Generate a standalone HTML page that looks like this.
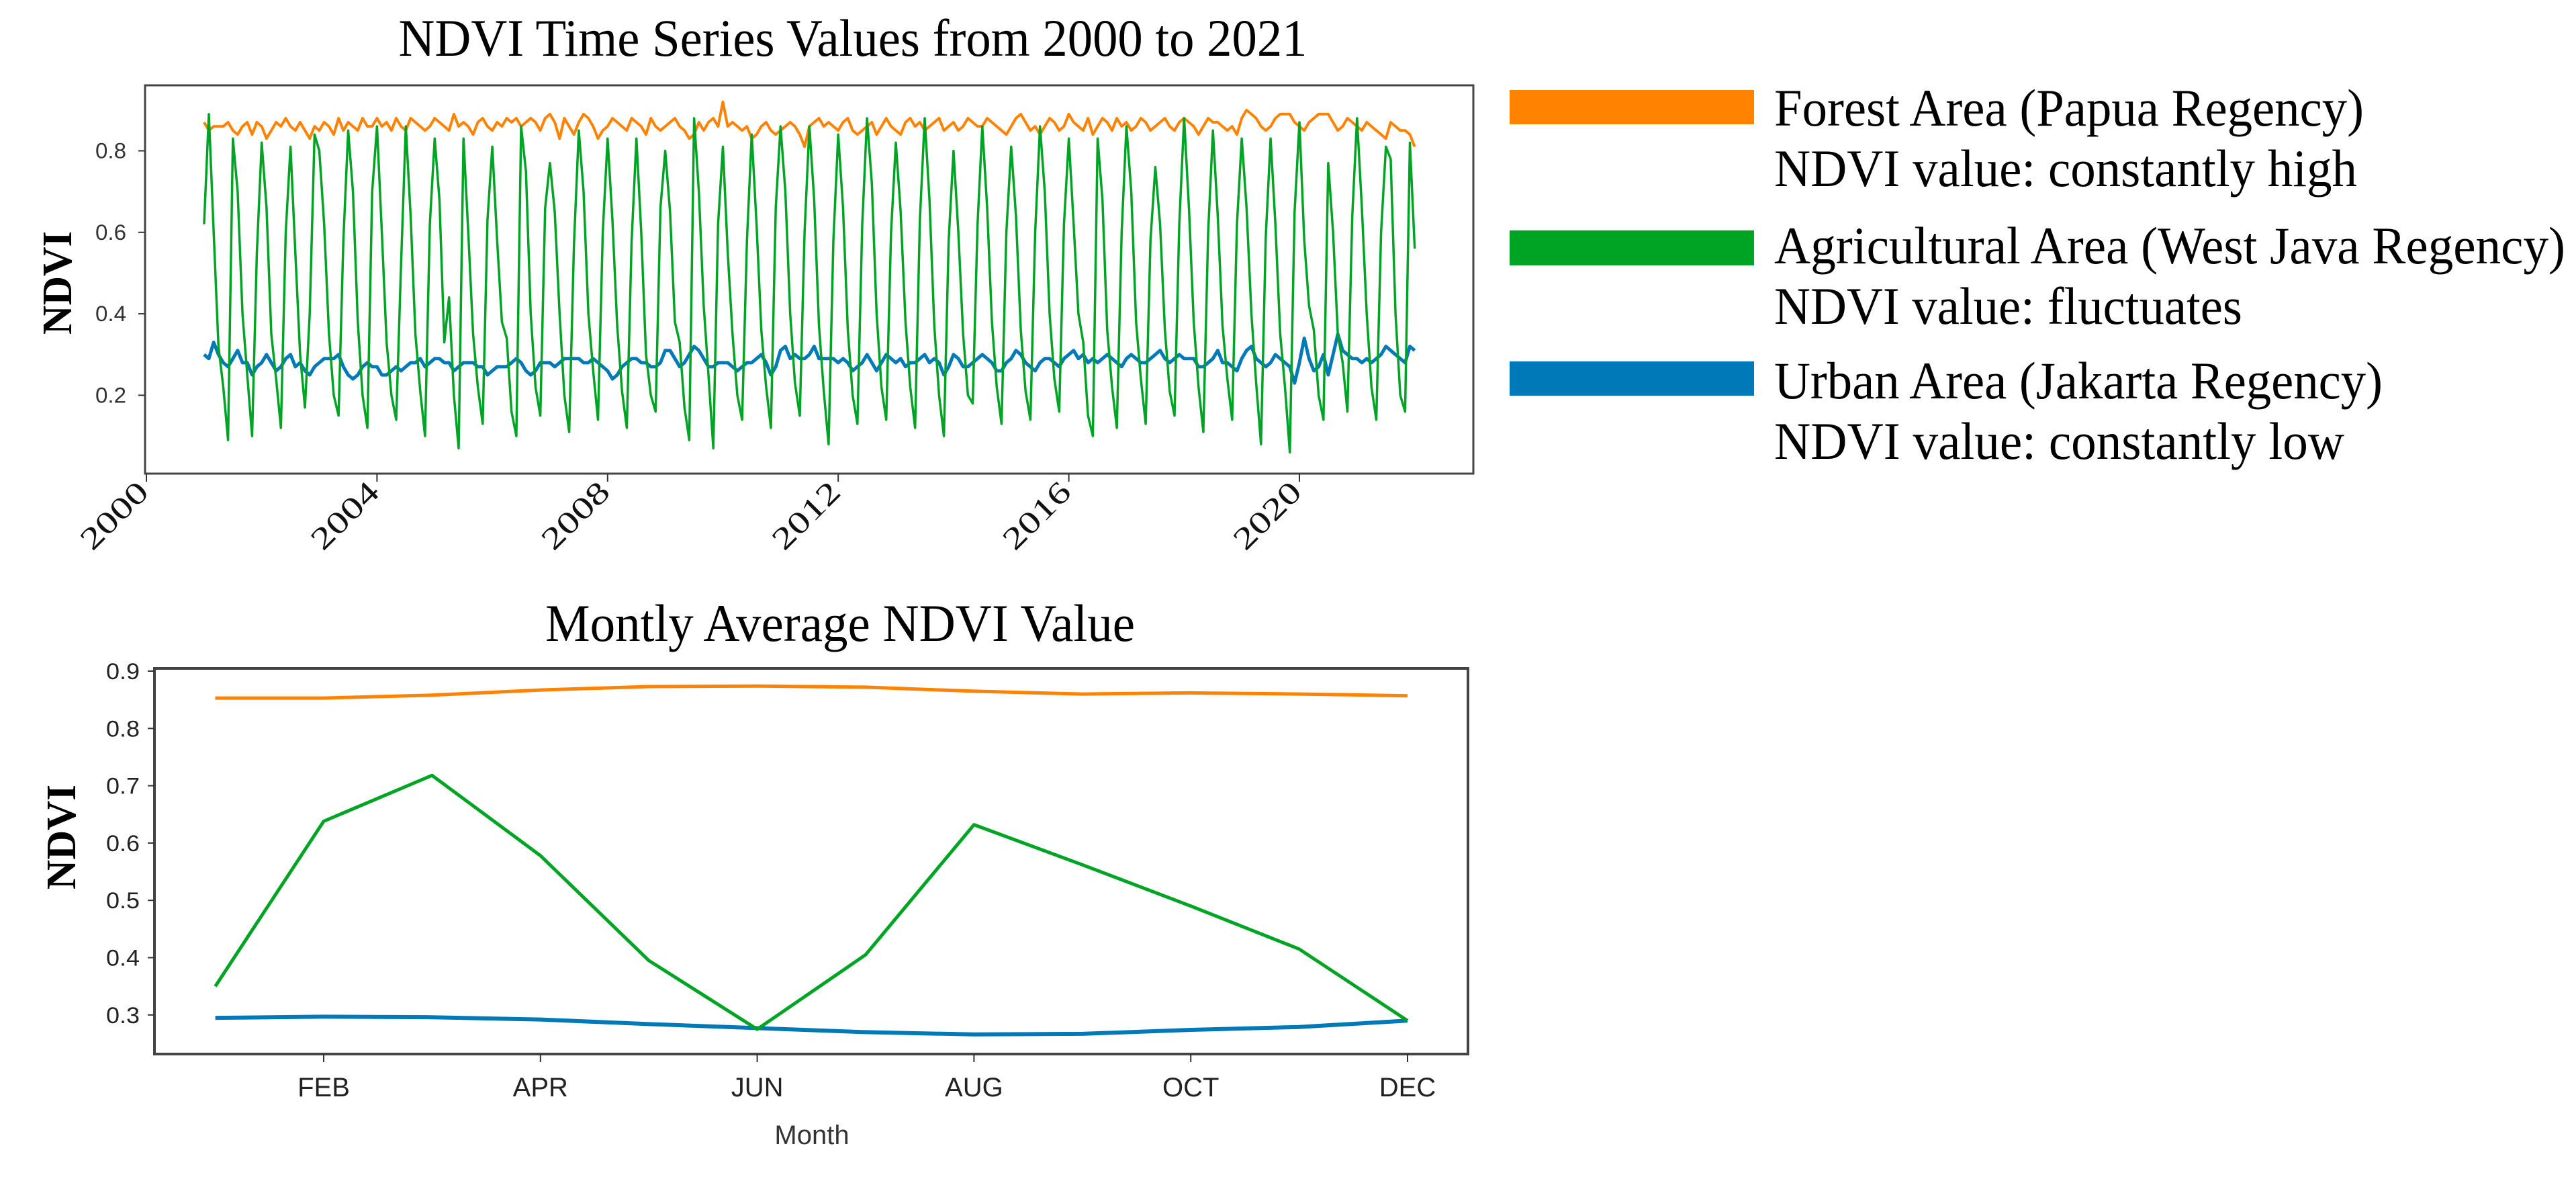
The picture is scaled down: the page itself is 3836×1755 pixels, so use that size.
<!DOCTYPE html>
<html><head><meta charset="utf-8"><style>
html,body{margin:0;padding:0;background:#fff;}
svg{display:block;}
</style></head><body>
<svg id="fig" width="3836" height="1755" viewBox="0 0 3836 1755" xmlns="http://www.w3.org/2000/svg">
<rect width="3836" height="1755" fill="#fff"/>
<g id="topChart"></g>
<g id="botChart"></g>
<g id="legend">
  <rect x="2248" y="134" width="364" height="51" fill="#ff8200"/>
  <text x="2642" y="187" font-family="Liberation Serif, serif" font-size="78" textLength="878" lengthAdjust="spacingAndGlyphs">Forest Area (Papua Regency)</text>
  <text x="2642" y="277" font-family="Liberation Serif, serif" font-size="78" textLength="868" lengthAdjust="spacingAndGlyphs">NDVI value: constantly high</text>
  <rect x="2248" y="343" width="364" height="52" fill="#00a424"/>
  <text x="2642" y="392" font-family="Liberation Serif, serif" font-size="78" textLength="1178" lengthAdjust="spacingAndGlyphs">Agricultural Area (West Java Regency)</text>
  <text x="2642" y="482" font-family="Liberation Serif, serif" font-size="78" textLength="697" lengthAdjust="spacingAndGlyphs">NDVI value: fluctuates</text>
  <rect x="2248" y="538" width="364" height="51" fill="#0079b8"/>
  <text x="2642" y="593" font-family="Liberation Serif, serif" font-size="78" textLength="906" lengthAdjust="spacingAndGlyphs">Urban Area (Jakarta Regency)</text>
  <text x="2642" y="683" font-family="Liberation Serif, serif" font-size="78" textLength="849" lengthAdjust="spacingAndGlyphs">NDVI value: constantly low</text>
</g>
</svg>
<script>
// ---------- Top chart data (monthly, starting Jan 2001) ----------
const tsStartYear = 2001;
const greenTS = [
.62,.89,.60,.32,.22,.09,.83,.70,.40,.25,.10,.55,
.82,.66,.35,.24,.12,.60,.81,.55,.30,.17,.40,.84,
.80,.62,.35,.20,.15,.58,.85,.70,.38,.20,.12,.70,
.86,.60,.33,.20,.14,.52,.86,.64,.35,.21,.10,.62,
.83,.68,.33,.44,.20,.07,.83,.60,.35,.22,.13,.63,
.81,.58,.38,.34,.16,.10,.86,.75,.40,.22,.15,.66,
.77,.65,.40,.20,.11,.57,.85,.70,.40,.26,.14,.60,
.83,.63,.37,.21,.12,.58,.83,.60,.30,.20,.16,.66,
.80,.65,.38,.33,.17,.09,.88,.70,.42,.25,.07,.62,
.81,.55,.35,.20,.14,.58,.84,.62,.36,.22,.12,.66,
.86,.70,.40,.23,.15,.60,.86,.68,.37,.21,.08,.58,
.84,.66,.36,.20,.13,.62,.88,.72,.40,.22,.14,.60,
.82,.65,.38,.22,.12,.63,.88,.68,.37,.20,.10,.58,
.80,.60,.35,.20,.18,.62,.86,.66,.38,.22,.13,.60,
.81,.64,.36,.21,.14,.60,.86,.70,.40,.24,.16,.62,
.83,.62,.40,.33,.15,.10,.83,.68,.36,.22,.12,.60,
.86,.70,.38,.24,.13,.58,.76,.62,.36,.21,.15,.62,
.88,.66,.38,.22,.11,.60,.85,.64,.37,.24,.14,.62,
.83,.66,.40,.23,.08,.59,.83,.62,.35,.22,.06,.65,
.87,.58,.42,.36,.20,.14,.77,.60,.35,.28,.16,.64,
.88,.66,.40,.22,.14,.60,.81,.78,.40,.20,.16,.82,
.56];
const orangeTS = [
.87,.85,.86,.86,.86,.87,.85,.84,.86,.87,.84,.87,
.86,.83,.85,.87,.86,.88,.86,.85,.87,.85,.83,.86,
.85,.87,.86,.84,.88,.85,.87,.86,.85,.88,.86,.86,
.88,.86,.87,.85,.88,.86,.85,.88,.87,.86,.85,.86,
.88,.87,.86,.85,.89,.86,.87,.86,.84,.87,.88,.86,
.85,.87,.86,.88,.87,.88,.86,.87,.88,.87,.85,.88,
.89,.87,.83,.88,.86,.84,.87,.89,.88,.86,.83,.85,
.86,.88,.87,.86,.85,.88,.87,.86,.84,.88,.86,.85,
.86,.87,.88,.86,.85,.83,.84,.87,.85,.87,.88,.86,
.92,.86,.87,.86,.85,.86,.83,.84,.86,.87,.85,.84,
.85,.86,.87,.86,.84,.81,.86,.87,.88,.86,.87,.86,
.85,.87,.88,.85,.84,.85,.86,.87,.84,.86,.88,.86,
.85,.84,.87,.88,.86,.87,.85,.86,.87,.88,.85,.86,
.87,.85,.86,.88,.87,.86,.86,.88,.87,.86,.85,.84,
.86,.88,.89,.87,.85,.86,.84,.86,.88,.87,.85,.86,
.89,.87,.86,.85,.88,.84,.86,.88,.87,.85,.88,.86,
.87,.85,.86,.88,.87,.85,.86,.87,.88,.86,.85,.87,
.88,.87,.86,.84,.86,.88,.87,.87,.86,.85,.86,.84,
.88,.90,.89,.88,.86,.85,.86,.88,.89,.89,.89,.87,
.86,.85,.87,.88,.89,.89,.89,.87,.85,.86,.88,.87,
.86,.85,.87,.86,.85,.84,.83,.87,.86,.85,.85,.84,
.81];
const blueTS = [
.30,.29,.33,.30,.28,.27,.29,.31,.28,.28,.25,.27,
.28,.30,.28,.26,.27,.29,.30,.27,.28,.26,.25,.27,
.28,.29,.29,.29,.30,.27,.25,.24,.25,.27,.28,.27,
.27,.25,.25,.26,.27,.26,.27,.28,.28,.29,.27,.28,
.29,.29,.28,.28,.26,.27,.28,.28,.28,.27,.27,.25,
.26,.27,.27,.27,.28,.29,.28,.26,.25,.26,.28,.28,
.28,.27,.28,.29,.29,.29,.29,.28,.28,.29,.28,.27,
.26,.24,.25,.27,.28,.29,.29,.28,.28,.27,.27,.28,
.31,.31,.29,.27,.28,.30,.32,.31,.29,.27,.27,.28,
.28,.28,.27,.26,.27,.28,.28,.29,.30,.28,.25,.27,
.31,.32,.29,.30,.29,.29,.30,.32,.29,.29,.29,.29,
.28,.29,.28,.26,.27,.28,.30,.28,.26,.28,.30,.29,
.28,.29,.27,.28,.28,.29,.30,.28,.29,.28,.25,.27,
.30,.29,.27,.27,.28,.29,.30,.29,.28,.26,.26,.28,
.29,.31,.30,.28,.27,.26,.28,.29,.29,.28,.27,.29,
.30,.31,.29,.30,.28,.29,.28,.29,.30,.29,.28,.27,
.29,.30,.29,.28,.28,.29,.30,.31,.29,.28,.29,.30,
.29,.29,.29,.27,.27,.28,.29,.31,.28,.28,.27,.26,
.29,.31,.32,.29,.28,.27,.28,.30,.29,.28,.27,.23,
.28,.34,.29,.26,.27,.30,.25,.30,.35,.31,.30,.29,
.29,.28,.29,.28,.29,.30,.32,.31,.30,.29,.28,.32,
.31];
const topYTicks = [0.2, 0.4, 0.6, 0.8];
const topYTickLabels = ["0.2","0.4","0.6","0.8"];
const topXTicks = [2000, 2004, 2008, 2012, 2016, 2020];
const topXTickLabels = ["2000","2004","2008","2012","2016","2020"];

// ---------- Bottom chart data ----------
const months = ["JAN","FEB","MAR","APR","MAY","JUN","JUL","AUG","SEP","OCT","NOV","DEC"];
const greenMonthly  = [0.350,0.638,0.718,0.578,0.395,0.275,0.405,0.632,0.562,0.490,0.415,0.290];
const orangeMonthly = [0.853,0.853,0.858,0.867,0.873,0.874,0.872,0.865,0.860,0.862,0.860,0.857];
const blueMonthly   = [0.295,0.297,0.296,0.292,0.284,0.277,0.270,0.266,0.267,0.274,0.279,0.290];
const botYTicks = [0.3,0.4,0.5,0.6,0.7,0.8,0.9];
const botYTickLabels = ["0.3","0.4","0.5","0.6","0.7","0.8","0.9"];
const botXTickIdx = [1,3,5,7,9,11];
const botXTickLabels = ["FEB","APR","JUN","AUG","OCT","DEC"];

const NS = "http://www.w3.org/2000/svg";
function mk(tag, attrs, parent){
  const e = document.createElementNS(NS, tag);
  for (const k in attrs) e.setAttribute(k, attrs[k]);
  parent.appendChild(e);
  return e;
}

// ---------- Top chart ----------
const TF = {L:216, R:2194, T:127, B:705};
const txScale = yr => 218 + (yr - 2000) * 85.85;
const tyScale = v => 224.5 + (0.8 - v) * 606.5;
const topG = document.getElementById('topChart');

let tt = mk('text', {x:1270, y:83, 'text-anchor':'middle', 'font-family':'Liberation Serif, serif', 'font-size':78, textLength:1353, lengthAdjust:'spacingAndGlyphs'}, topG);
tt.textContent = 'NDVI Time Series Values from 2000 to 2021';



let tf = mk('rect', {x:TF.L, y:TF.T, width:TF.R-TF.L, height:TF.B-TF.T, fill:'none', stroke:'#444', 'stroke-width':3}, topG);



topYTicks.forEach((v,i)=>{
  const y = tyScale(v);
  const tk = mk('line', {x1:TF.L-10, x2:TF.L, y1:y, y2:y, stroke:'#333', 'stroke-width':2}, topG);
  
  
  const lb = mk('text', {x:TF.L-28, y:y+11, 'text-anchor':'end', 'font-family':'Liberation Sans, sans-serif', 'font-size':32, fill:'#333', textLength:46, lengthAdjust:'spacingAndGlyphs'}, topG);
  lb.textContent = topYTickLabels[i];
  
  
});
topXTicks.forEach((yr,i)=>{
  const x = txScale(yr);
  const tk = mk('line', {x1:x, x2:x, y1:TF.B, y2:TF.B+12, stroke:'#333', 'stroke-width':2}, topG);
  
  
  const lb = mk('text', {x:0, y:0, 'text-anchor':'end', 'font-family':'Liberation Serif, serif', 'font-size':46, fill:'#111', textLength:122, lengthAdjust:'spacingAndGlyphs', transform:`translate(${x+6},${TF.B+30}) rotate(-45)`}, topG);
  lb.textContent = topXTickLabels[i];
  
  
});
let tyl = mk('text', {x:0, y:0, 'text-anchor':'middle', 'font-family':'Liberation Serif, serif', 'font-size':62, 'font-weight':'bold', textLength:154, lengthAdjust:'spacingAndGlyphs', transform:'translate(106,421) rotate(-90)'}, topG);
tyl.textContent = 'NDVI';



function tsPath(arr){
  return arr.map((v,i)=>(i?'L':'M')+txScale(tsStartYear + i/12).toFixed(1)+','+tyScale(v).toFixed(1)).join(' ');
}
let po = mk('path', {d:tsPath(orangeTS), fill:'none', stroke:'#ff8200', 'stroke-width':4, 'stroke-linejoin':'round'}, topG);


let pb = mk('path', {d:tsPath(blueTS), fill:'none', stroke:'#0079b8', 'stroke-width':5, 'stroke-linejoin':'round'}, topG);


let pg = mk('path', {d:tsPath(greenTS), fill:'none', stroke:'#00a424', 'stroke-width':3.5, 'stroke-linejoin':'round'}, topG);



// ---------- Bottom chart ----------
const BF = {L:230, R:2186, T:995, B:1569};
const bxScale = i => 320.6 + i * 161.4;
const byScale = v => 999 + (0.9 - v) * 853;
const botG = document.getElementById('botChart');

let bt = mk('text', {x:1251, y:954, 'text-anchor':'middle', 'font-family':'Liberation Serif, serif', 'font-size':78, textLength:878, lengthAdjust:'spacingAndGlyphs'}, botG);
bt.textContent = 'Montly Average NDVI Value';



let bf = mk('rect', {x:BF.L, y:BF.T, width:BF.R-BF.L, height:BF.B-BF.T, fill:'none', stroke:'#444', 'stroke-width':4}, botG);



botYTicks.forEach((v,i)=>{
  const y = byScale(v);
  const tk = mk('line', {x1:BF.L-10, x2:BF.L, y1:y, y2:y, stroke:'#333', 'stroke-width':2}, botG);
  
  
  const lb = mk('text', {x:BF.L-22, y:y+12, 'text-anchor':'end', 'font-family':'Liberation Sans, sans-serif', 'font-size':34, fill:'#222', textLength:50, lengthAdjust:'spacingAndGlyphs'}, botG);
  lb.textContent = botYTickLabels[i];
  
  
});
botXTickIdx.forEach((m,i)=>{
  const x = bxScale(m);
  const tk = mk('line', {x1:x, x2:x, y1:BF.B, y2:BF.B+12, stroke:'#333', 'stroke-width':2}, botG);
  
  
  const lb = mk('text', {x:x, y:1632, 'text-anchor':'middle', 'font-family':'Liberation Sans, sans-serif', 'font-size':40, fill:'#222'}, botG);
  lb.textContent = botXTickLabels[i];
  
  
});
let bxl = mk('text', {x:1209, y:1703, 'text-anchor':'middle', 'font-family':'Liberation Sans, sans-serif', 'font-size':40, fill:'#333'}, botG);
bxl.textContent = 'Month';


let byl = mk('text', {x:0, y:0, 'text-anchor':'middle', 'font-family':'Liberation Serif, serif', 'font-size':62, 'font-weight':'bold', textLength:156, lengthAdjust:'spacingAndGlyphs', transform:'translate(112,1246) rotate(-90)'}, botG);
byl.textContent = 'NDVI';



function mPath(arr){
  return arr.map((v,i)=>(i?'L':'M')+bxScale(i).toFixed(1)+','+byScale(v).toFixed(1)).join(' ');
}
let mo = mk('path', {d:mPath(orangeMonthly), fill:'none', stroke:'#ff8200', 'stroke-width':5, 'stroke-linejoin':'round'}, botG);


let mb = mk('path', {d:mPath(blueMonthly), fill:'none', stroke:'#0079b8', 'stroke-width':6, 'stroke-linejoin':'round'}, botG);


let mg = mk('path', {d:mPath(greenMonthly), fill:'none', stroke:'#00a424', 'stroke-width':5, 'stroke-linejoin':'round'}, botG);


</script>
</body></html>
